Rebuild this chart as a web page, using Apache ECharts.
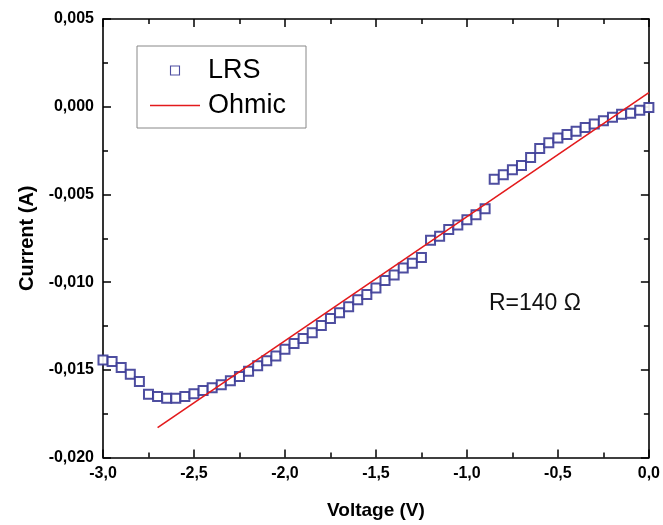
<!DOCTYPE html>
<html>
<head>
<meta charset="utf-8">
<script src="https://cdn.jsdelivr.net/npm/echarts@6/dist/echarts.min.js"></script>
<style>
  html, body { margin: 0; padding: 0; background: #fff; }
  #chart { width: 663px; height: 525px; }
</style>
</head>
<body>
<div id="chart"></div>
<script>
// Measured I-V sweep (low resistance state)
const voltage = [
  -3.00, -2.95, -2.90, -2.85, -2.80, -2.75, -2.70, -2.65, -2.60, -2.55,
  -2.50, -2.45, -2.40, -2.35, -2.30, -2.25, -2.20, -2.15, -2.10, -2.05,
  -2.00, -1.95, -1.90, -1.85, -1.80, -1.75, -1.70, -1.65, -1.60, -1.55,
  -1.50, -1.45, -1.40, -1.35, -1.30, -1.25, -1.20, -1.15, -1.10, -1.05,
  -1.00, -0.95, -0.90, -0.85, -0.80, -0.75, -0.70, -0.65, -0.60, -0.55,
  -0.50, -0.45, -0.40, -0.35, -0.30, -0.25, -0.20, -0.15, -0.10, -0.05,
  0.00
];
const current = [
  -0.01444, -0.01453, -0.01487, -0.01526, -0.01566, -0.01639, -0.01652, -0.01662, -0.01662, -0.01652,
  -0.01637, -0.01618, -0.01603, -0.01585, -0.01562, -0.01538, -0.01508, -0.01477, -0.01449, -0.01421,
  -0.01383, -0.01350, -0.01321, -0.01289, -0.01248, -0.01207, -0.01175, -0.01140, -0.01100, -0.01070,
  -0.01034, -0.00991, -0.00959, -0.00919, -0.00893, -0.00860, -0.00762, -0.00738, -0.00700, -0.00674,
  -0.00644, -0.00616, -0.00582, -0.00414, -0.00388, -0.00360, -0.00335, -0.00290, -0.00239, -0.00205,
  -0.00179, -0.00159, -0.00140, -0.00118, -0.00099, -0.00080, -0.00060, -0.00043, -0.00038, -0.00020,
  -0.00005
];

// Ohmic fit (R = 140 Ohm)
const ohmicV = [-2.70, 0.00];
const ohmicI = [-0.0183, 0.0008];

const xTicks = { min: -3, max: 0, interval: 0.5 };
const yTicks = { min: -0.020, max: 0.005, interval: 0.005 };

const FONT = '"Liberation Sans", Arial, Helvetica, sans-serif';
const LRS_COLOR = '#3b3b96';
const OHMIC_COLOR = '#e31a1c';

const zip = (a, b) => a.map((v, i) => [v, b[i]]);

const commaFmt = (digits) => (v) => v.toFixed(digits).replace('.', ',');

const axisLine = { show: true, onZero: false, lineStyle: { color: '#000', width: 1.6 } };
const axisTick = { show: true, inside: true, length: 8, lineStyle: { color: '#000', width: 1.5 } };
const minorTick = { show: true, splitNumber: 2, length: 5, lineStyle: { color: '#000', width: 1.5 } };
const tickLabel = { color: '#000', fontFamily: FONT, fontWeight: 'bold', fontSize: 16 };

const chart = echarts.init(document.getElementById('chart'), null, { renderer: 'canvas' });

chart.setOption({
  animation: false,
  backgroundColor: '#fff',
  grid: { left: 103, right: 12, top: 19, bottom: 63, containLabel: false },
  legend: {
    orient: 'vertical',
    left: 137,
    top: 46,
    padding: [11, 20, 9, 13],
    itemGap: 8,
    itemWidth: 50,
    itemHeight: 9,
    symbolKeepAspect: true,
    borderColor: '#888',
    borderWidth: 1,
    textStyle: { color: '#000', fontFamily: FONT, fontSize: 27, padding: [0, 0, 0, 3] },
    data: [
      {
        name: 'LRS',
        icon: 'path://M0,0L10,0L10,10L0,10Z',
        itemStyle: { color: '#fff', borderColor: LRS_COLOR, borderWidth: 1.1 }
      },
      {
        name: 'Ohmic',
        icon: 'path://M0,0L50,0L50,1.6L0,1.6Z',
        itemStyle: { color: OHMIC_COLOR, borderWidth: 0 }
      }
    ]
  },
  title: {
    text: 'R=140 \u03A9',
    left: 484,
    top: 287,
    textStyle: { color: '#111', fontFamily: FONT, fontWeight: 'normal', fontSize: 23 }
  },
  xAxis: [
    {
      type: 'value', position: 'bottom',
      min: xTicks.min, max: xTicks.max, interval: xTicks.interval,
      axisLine, axisTick, minorTick,
      splitLine: { show: false },
      axisLabel: Object.assign({ margin: 8, formatter: commaFmt(1) }, tickLabel),
      name: 'Voltage (V)', nameLocation: 'middle', nameGap: 53,
      nameTextStyle: { color: '#000', fontFamily: FONT, fontWeight: 'bold', fontSize: 19, verticalAlign: 'middle', align: 'center' }
    },
    {
      type: 'value', position: 'top',
      min: xTicks.min, max: xTicks.max, interval: xTicks.interval,
      axisLine, axisTick, minorTick,
      splitLine: { show: false },
      axisLabel: { show: false }
    }
  ],
  yAxis: [
    {
      type: 'value', position: 'left',
      min: yTicks.min, max: yTicks.max, interval: yTicks.interval,
      axisLine, axisTick, minorTick,
      splitLine: { show: false },
      axisLabel: Object.assign({ margin: 9, formatter: commaFmt(3) }, tickLabel),
      name: 'Current (A)', nameLocation: 'middle', nameGap: 63, nameRotate: 90,
      nameTextStyle: { color: '#000', fontFamily: FONT, fontWeight: 'bold', fontSize: 20, verticalAlign: 'middle', align: 'center' }
    },
    {
      type: 'value', position: 'right',
      min: yTicks.min, max: yTicks.max, interval: yTicks.interval,
      axisLine, axisTick, minorTick,
      splitLine: { show: false },
      axisLabel: { show: false }
    }
  ],
  series: [
    {
      name: 'LRS',
      type: 'scatter',
      xAxisIndex: 0, yAxisIndex: 0,
      symbol: 'emptyRect',
      symbolSize: 9,
      itemStyle: { color: LRS_COLOR, borderWidth: 1.1, opacity: 0.9 },
      data: zip(voltage, current),
      z: 3
    },
    {
      name: 'Ohmic',
      type: 'line',
      xAxisIndex: 0, yAxisIndex: 0,
      symbol: 'none',
      lineStyle: { color: OHMIC_COLOR, width: 1.6 },
      itemStyle: { color: OHMIC_COLOR },
      data: zip(ohmicV, ohmicI),
      z: 4
    }
  ]
});
</script>
</body>
</html>
